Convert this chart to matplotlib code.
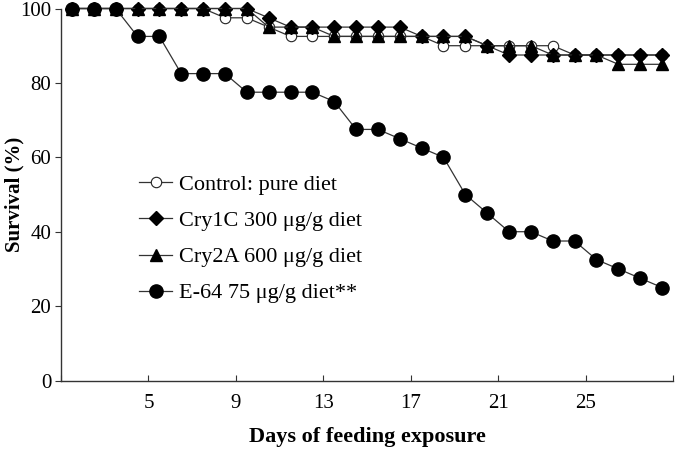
import numpy as np
import matplotlib.pyplot as plt

plt.rcParams['font.family'] = ['Liberation Serif', 'DejaVu Serif']

days = np.arange(1, 29)
control = [100, 100, 100, 100, 100, 100, 100, 97.5, 97.5, 95,
           92.5, 92.5, 92.5, 92.5, 92.5, 92.5, 92.5, 90, 90, 90,
           90, 90, 90, 87.5, 87.5, 87.5, 87.5, 87.5]
cry1c = [100, 100, 100, 100, 100, 100, 100, 100, 100, 97.5,
         95, 95, 95, 95, 95, 95, 92.5, 92.5, 92.5, 90,
         87.5, 87.5, 87.5, 87.5, 87.5, 87.5, 87.5, 87.5]
cry2a = [100, 100, 100, 100, 100, 100, 100, 100, 100, 95,
         95, 95, 92.5, 92.5, 92.5, 92.5, 92.5, 92.5, 92.5, 90,
         90, 90, 87.5, 87.5, 87.5, 85, 85, 85]
e64 = [100, 100, 100, 92.5, 92.5, 82.5, 82.5, 82.5, 77.5, 77.5,
       77.5, 77.5, 75, 67.5, 67.5, 65, 62.5, 60, 50, 45,
       40, 40, 37.5, 37.5, 32.5, 30, 27.5, 25]

labels = ['Control: pure diet', 'Cry1C 300 \u03bcg/g diet',
          'Cry2A 600 \u03bcg/g diet', 'E-64 75 \u03bcg/g diet**']
tick_days = [1, 5, 9, 13, 17, 21, 25, 29]

fig = plt.figure(figsize=(6.75, 4.5), dpi=100)
ax = fig.add_axes([0.0904, 0.1544, 0.9066, 0.8267])

lc = '#333333'
ax.plot(days, control, color=lc, lw=0.9, marker='o', ms=7.5, mfc='white',
        mec='#222222', mew=0.8, clip_on=False, label=labels[0], zorder=3)
ax.plot(days, cry1c, color=lc, lw=0.9, marker='D', ms=7, mfc='black',
        mec='black', clip_on=False, label=labels[1], zorder=4)
ax.plot(days, cry2a, color=lc, lw=0.9, marker='^', ms=9, mfc='black',
        mec='black', clip_on=False, label=labels[2], zorder=5)
ax.plot(days, e64, color=lc, lw=0.9, marker='o', ms=9.5, mfc='black',
        mec='black', clip_on=False, label=labels[3], zorder=6)

ax.set_xlim(0.5, 28.5)
ax.set_ylim(0, 100)
# tick marks sit between day categories
ax.set_xticks([d - 0.5 for d in tick_days])
ax.set_xticklabels(['' if d in (1, 29) else str(d) for d in tick_days])
ax.set_yticks(range(0, 101, 20))

for s in ['top', 'right']:
    ax.spines[s].set_visible(False)
for s in ['left', 'bottom']:
    ax.spines[s].set_color('#333333')
    ax.spines[s].set_linewidth(1.0)

ax.tick_params(axis='x', direction='in', length=4, pad=10, labelsize=15,
               color='#333333')
ax.tick_params(axis='y', direction='out', length=4, pad=3, labelsize=15,
               color='#333333')

ax.set_xlabel('Days of feeding exposure', fontsize=16, fontweight='bold',
              labelpad=10)
ax.set_ylabel('Survival (%)', fontsize=15, fontweight='bold')
ax.yaxis.set_label_coords(-0.06, 0.5)

ax.legend(loc='upper left', bbox_to_anchor=(0.206, 0.612),
          bbox_transform=fig.transFigure, frameon=False, fontsize=16,
          handlelength=1.5, handletextpad=0.3, labelspacing=0.7,
          borderpad=0, borderaxespad=0)

fig.savefig('out.png', dpi=100)
